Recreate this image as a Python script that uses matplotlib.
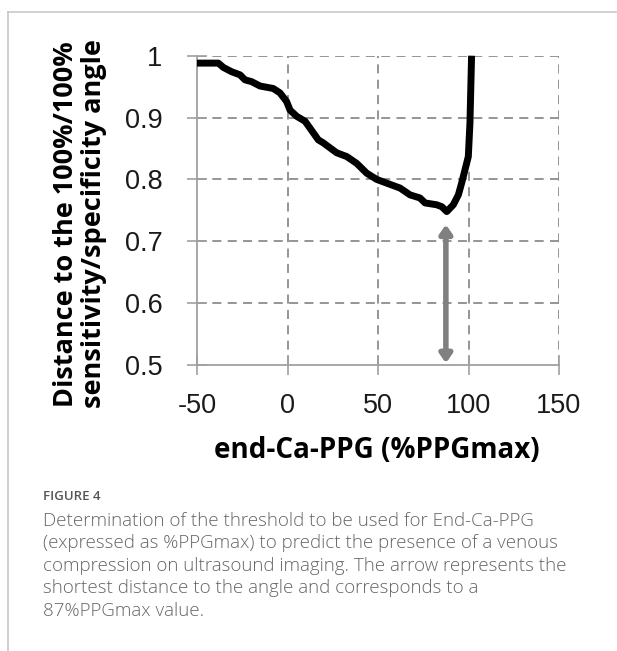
import matplotlib
matplotlib.use("Agg")
import matplotlib.pyplot as plt
from matplotlib.lines import Line2D

x_vals = [-50, -38.2, -35.4, -30.8, -26.2, -23.5, -19.8, -15.2, -7.9, -4.2, -0.5, 1.4, 5.1, 9.7,
          12.4, 17.0, 19.8, 27.2, 32.7, 38.2, 43.8, 49.3, 54.8, 62.2, 67.7, 73.2, 76.0, 82.4,
          85.2, 88.0, 91.6, 94.4, 96.2, 98.1, 99.9, 100.8, 101.7]
y_vals = [0.988, 0.988, 0.981, 0.974, 0.969, 0.961, 0.958, 0.951, 0.947, 0.940, 0.926, 0.912,
          0.902, 0.894, 0.883, 0.864, 0.859, 0.843, 0.837, 0.826, 0.810, 0.800, 0.794, 0.786,
          0.775, 0.770, 0.762, 0.759, 0.756, 0.748, 0.759, 0.775, 0.794, 0.816, 0.837, 0.891, 1.0]
arrow_x = 87.5
arrow_y = [0.727, 0.503]
x_ticks = [-50, 0, 50, 100, 150]
y_ticks = [0.5, 0.6, 0.7, 0.8, 0.9, 1.0]
y_tick_labels = ["0.5", "0.6", "0.7", "0.8", "0.9", "1"]

W, H = 617, 651
fig = plt.figure(figsize=(W / 100, H / 100), dpi=100)

# frame lines of the page
fig.add_artist(Line2D([8 / W, 1], [1 - 12 / H, 1 - 12 / H], color="#c8c8c8", lw=1.2))
fig.add_artist(Line2D([8 / W, 8 / W], [0, 1 - 12 / H], color="#c8c8c8", lw=1.2))

ax_left, ax_right, ax_top, ax_bottom = 197, 559, 55.7, 365
ax = fig.add_axes([ax_left / W, 1 - ax_bottom / H, (ax_right - ax_left) / W, (ax_bottom - ax_top) / H])
ax.set_xlim(-50, 150)
ax.set_ylim(0.5, 1.0)

grid_kw = dict(color="#8c8c8c", lw=1.3, ls=(0, (5, 3.5)), zorder=1)
for xv in x_ticks[1:]:
    ax.axvline(xv, **grid_kw)
for yv in y_ticks[1:]:
    ax.axhline(yv, **grid_kw)

ax.plot(x_vals, y_vals, color="black", lw=5, solid_capstyle="butt", solid_joinstyle="round",
        zorder=3, clip_on=False)

ax.annotate("", xy=(arrow_x, arrow_y[1]), xytext=(arrow_x, arrow_y[0]),
            arrowprops=dict(arrowstyle="<|-|>,head_length=0.5,head_width=0.35", color="#808080",
                            lw=4, shrinkA=0, shrinkB=0), zorder=2)

for s in ["top", "right"]:
    ax.spines[s].set_visible(False)
for s in ["left", "bottom"]:
    ax.spines[s].set_color("#a0a0a0")
    ax.spines[s].set_linewidth(1.3)

font = "Liberation Sans"
ax.set_xticks(x_ticks)
ax.set_xticklabels([str(v) for v in x_ticks], fontsize=19.5, family=font)
ax.set_yticks(y_ticks)
ax.set_yticklabels(y_tick_labels, fontsize=19.5, family=font)
ax.tick_params(direction="inout", length=14, width=1.2, color="#a0a0a0", labelcolor="#1a1a1a")
ax.tick_params(axis="x", pad=13)
ax.tick_params(axis="y", pad=18)

ax_w = ax_right - ax_left
ax_h = ax_bottom - ax_top
ax.set_xlabel("end-Ca-PPG (%PPGmax)", fontsize=20, fontweight="bold", family="Open Sans",
              va="center")
ax.xaxis.set_label_coords((376.5 - ax_left) / ax_w, (ax_bottom - 450) / ax_h)
ax.set_ylabel("Distance to the 100%/100%\nsensitivity/specificity angle", fontsize=19.5,
              fontweight="bold", family="Open Sans", linespacing=1.1, va="center")
ax.yaxis.set_label_coords((80 - ax_left) / ax_w, (ax_bottom - 224) / ax_h)

fig.text(43 / W, 1 - 496 / H, "FIGURE 4", fontsize=9.5, color="#555555", family="Open Sans",
         fontweight="semibold", va="center", ha="left")
caption = ("Determination of the threshold to be used for End-Ca-PPG\n"
           "(expressed as %PPGmax) to predict the presence of a venous\n"
           "compression on ultrasound imaging. The arrow represents the\n"
           "shortest distance to the angle and corresponds to a\n"
           "87%PPGmax value.")
fig.text(43 / W, 1 - 512 / H, caption, fontsize=13.5, color="#666666", family="Open Sans",
         fontweight="light", va="top", ha="left", linespacing=1.32)

fig.savefig("out.png", dpi=100)
